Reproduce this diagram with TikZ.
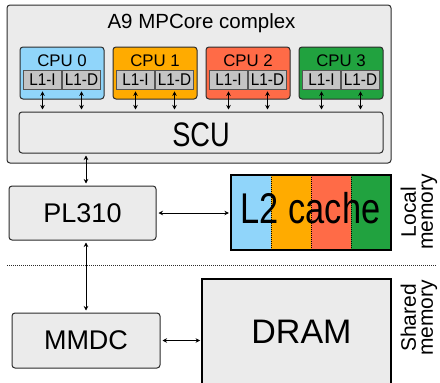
\documentclass[tikz,border=0pt]{standalone}
\usepackage{fontspec}
\setmainfont{Liberation Sans}
\usetikzlibrary{arrows.meta,fit,calc}
\definecolor{cblue}{HTML}{90D5FA}
\definecolor{corange}{HTML}{FFAB00}
\definecolor{cred}{HTML}{FF6B47}
\definecolor{cgreen}{HTML}{21A23F}
\definecolor{cgray}{HTML}{EBEBEB}
\definecolor{cl1}{HTML}{C4C4C4}
\definecolor{cdark}{HTML}{2B2B2B}
\begin{document}
\begin{tikzpicture}[x=1pt,y=-1pt,
  box/.style={draw=cdark, line width=1pt, fill=cgray, rounded corners=3pt, inner sep=0pt},
  cpubox/.style={draw=cdark, line width=1pt, rounded corners=3pt, inner sep=0pt, minimum width=84pt, minimum height=52pt},
  cpulabel/.style={anchor=base, inner sep=0pt, font=\fontsize{16.8}{18}\selectfont},
  l1box/.style={draw=cdark!80, line width=0.8pt, fill=cl1, inner sep=0pt, minimum width=38pt, minimum height=19pt, font=\fontsize{17}{18}\selectfont},
  arr/.style={{Stealth[length=4.5pt,width=4.5pt]}-{Stealth[length=4.5pt,width=4.5pt]}, line width=1pt, black, shorten <=2pt, shorten >=2pt},
  stripe/.style={inner sep=0pt, minimum width=40pt, minimum height=75pt},
  heavy/.style={draw=black, line width=1.8pt, fill=cgray, inner sep=0pt},
  side/.style={rotate=90, align=center, inner sep=0pt, font=\fontsize{21}{17}\selectfont},
  sep/.style={draw=cdark, line width=0.8pt, dash pattern=on 1pt off 1pt}]
\clip (0,0) rectangle (440,383);
\fill[white] (0,0) rectangle (440,383);

% A9 complex
\node[box, minimum width=384pt, minimum height=158pt] (a9) at (199,84) {};
\node[anchor=base, inner sep=0pt, font=\fontsize{20.5}{24}\selectfont] (title) at (201.5,28) {A9 MPCore complex};

\node[box, minimum width=364pt, minimum height=41pt] (scu) at (201,132.5) {};
\node[inner sep=0pt, font=\fontsize{34}{38}\selectfont] (scut) at (201,135) {\scalebox{0.8}[1]{SCU}};

\foreach \i/\cx/\col in {0/62/cblue,1/155/corange,2/248/cred,3/341/cgreen}{
  \node[cpubox, fill=\col] (cpu\i) at (\cx,73) {};
  \node[cpulabel] (cpul\i) at (\cx,66.5) {CPU \i};
  \node[l1box] (l1i\i) at ({\cx-19.5},79.5) {\scalebox{0.9}[1]{L1-I}};
  \node[l1box] (l1d\i) at ({\cx+19.5},79.5) {\scalebox{0.9}[1]{L1-D}};
  \draw[arr] (l1i\i.south) -- (l1i\i.south |- scu.north);
  \draw[arr] (l1d\i.south) -- (l1d\i.south |- scu.north);
}

% PL310
\node[box, minimum width=147pt, minimum height=54pt, font=\fontsize{27}{30}\selectfont] (pl) at (82.5,213) {PL310};
\draw[arr] ([xshift=3.5pt]pl.north |- scu.south) -- ([xshift=3.5pt]pl.north);

% L2 cache
\node[stripe, fill=cblue] (s0) at (251,212.5) {};
\node[stripe, fill=corange] (s1) at (291,212.5) {};
\node[stripe, fill=cred] (s2) at (331,212.5) {};
\node[stripe, fill=cgreen] (s3) at (371,212.5) {};
\foreach \j in {0,1,2}{
  \draw[black, line width=0.6pt, dash pattern=on 1pt off 1pt] (s\j.north east) -- (s\j.south east);
}
\node[draw=black, line width=1.8pt, inner sep=0pt, fit=(s0)(s3)] (l2) {};
\node[inner sep=0pt, font=\fontsize{43}{48}\selectfont] (l2t) at (310.5,208.5) {\scalebox{0.8}[1]{L2 cache}};
\draw[arr, shorten >=1pt] (pl.east) -- (pl.east -| l2.west);

\node[side] (lm) at (419,212) {Local\\memory};

% separator
\coordinate (dl) at (7,265);
\coordinate (dr) at (437,265);
\draw[sep] (dl) -- (dr);

% MMDC and DRAM
\node[box, minimum width=148pt, minimum height=55pt, font=\fontsize{27}{30}\selectfont] (mmdc) at (86,340.5) {MMDC};
\draw[arr] (pl.south -| mmdc.north) -- (mmdc.north);

\node[heavy, minimum width=189pt, minimum height=106pt] (dram) at (296.5,332) {};
\node[inner sep=0pt, font=\fontsize{34}{38}\selectfont] (dramt) at (301.5,332) {DRAM};
\draw[arr, shorten >=1pt] (mmdc.east) -- (mmdc.east -| dram.west);

\node[side] (sm) at (419,318) {Shared\\memory};
\end{tikzpicture}
\end{document}
